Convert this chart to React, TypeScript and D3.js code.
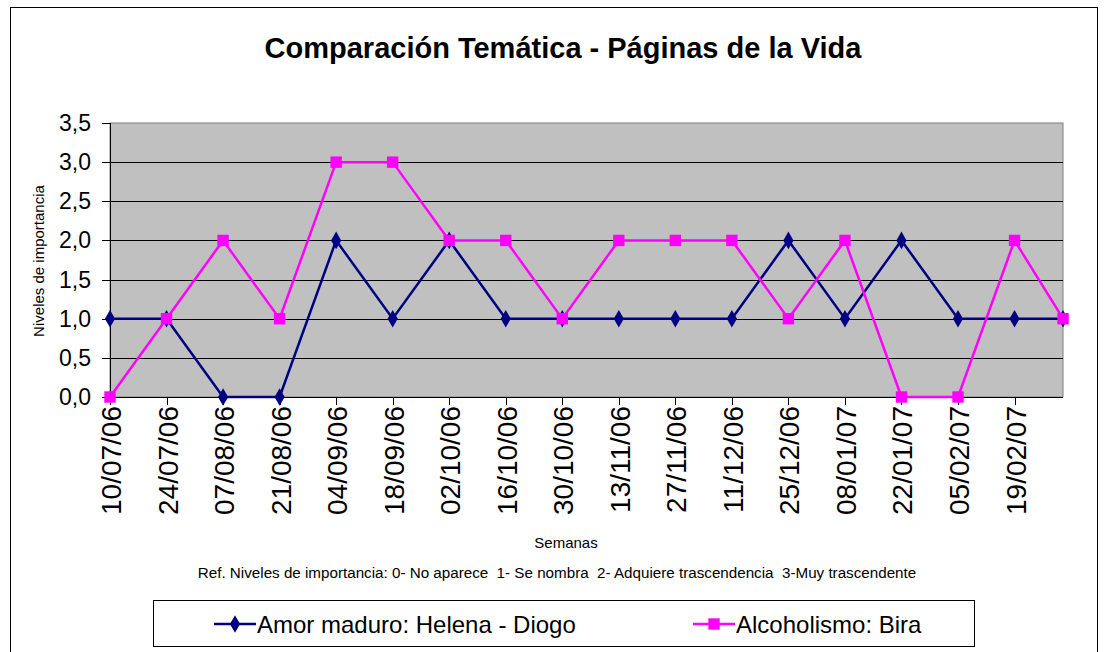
import React from 'react'
import { scaleTime, scaleLinear, line, timeParse, symbol, symbolDiamond, symbolSquare } from 'd3'

const fechas = ["10/07/06", "24/07/06", "07/08/06", "21/08/06", "04/09/06", "18/09/06", "02/10/06", "16/10/06", "30/10/06",
  "13/11/06", "27/11/06", "11/12/06", "25/12/06", "08/01/07", "22/01/07", "05/02/07", "19/02/07", "03/03/07"]
const tickLabels = ["10/07/06", "24/07/06", "07/08/06", "21/08/06", "04/09/06", "18/09/06", "02/10/06", "16/10/06", "30/10/06",
  "13/11/06", "27/11/06", "11/12/06", "25/12/06", "08/01/07", "22/01/07", "05/02/07", "19/02/07"]
const amor = [1, 1, 0, 0, 2, 1, 2, 1, 1, 1, 1, 1, 2, 1, 2, 1, 1, 1]
const alcoholismo = [0, 1, 2, 1, 3, 3, 2, 2, 1, 2, 2, 2, 1, 2, 0, 0, 2, 1]
const yTicks = [0, 0.5, 1, 1.5, 2, 2.5, 3, 3.5]

const parse = timeParse("%d/%m/%y")
const font = "'Liberation Sans', Arial, sans-serif"

const W = 1104, H = 652
const m = { left: 110, right: 1063, top: 123, bottom: 397 }

export default function App() {
  const dates = fechas.map(d => parse(d) as Date)
  const x = scaleTime().domain([dates[0], dates[dates.length - 1]]).range([m.left, m.right])
  const y = scaleLinear().domain([0, 3.5]).range([m.bottom, m.top])

  const series = [
    { name: "Amor maduro: Helena - Diogo", values: amor, color: "#000080", shape: symbolDiamond, size: 90 },
    { name: "Alcoholismo: Bira", values: alcoholismo, color: "#FF00FF", shape: symbolSquare, size: 130 },
  ]

  const lineGen = line<number>().x((_, i) => x(dates[i])).y(v => y(v))
  const fmt = (v: number) => v.toFixed(1).replace(".", ",")

  return (
    <svg width={W} height={H} style={{ position: 'absolute', left: 0, top: 0, background: '#fff' }} fontFamily={font}>
      <rect x={10.5} y={7.5} width={1087} height={660} fill="#fff" stroke="#000" strokeWidth={1} />
      <text x={563} y={58} textAnchor="middle" fontSize={29} fontWeight="bold">Comparación Temática - Páginas de la Vida</text>

      <rect x={m.left} y={m.top} width={m.right - m.left} height={m.bottom - m.top} fill="#C0C0C0" stroke="#808080" strokeWidth={1} />
      {yTicks.filter(t => t > 0 && t < 3.5).map(t => (
        <line key={t} x1={m.left} x2={m.right} y1={Math.round(y(t)) + 0.5} y2={Math.round(y(t)) + 0.5} stroke="#000" />
      ))}

      {/* y axis */}
      <line x1={m.left + 0.5} x2={m.left + 0.5} y1={m.top} y2={m.bottom} stroke="#000" />
      {yTicks.map(t => (
        <g key={t}>
          <line x1={m.left - 8} x2={m.left} y1={Math.round(y(t)) + 0.5} y2={Math.round(y(t)) + 0.5} stroke="#000" />
          <text x={m.left - 19} y={y(t) + 8} textAnchor="end" fontSize={23}>{fmt(t)}</text>
        </g>
      ))}
      <text transform={`translate(44,${261}) rotate(-90)`} textAnchor="middle" fontSize={15}>Niveles de importancia</text>

      {/* x axis */}
      <line x1={m.left} x2={m.right} y1={m.bottom + 0.5} y2={m.bottom + 0.5} stroke="#000" />
      {tickLabels.map(t => {
        const px = Math.round(x(parse(t) as Date)) + 0.5
        return (
          <g key={t}>
            <line x1={px} x2={px} y1={m.bottom} y2={m.bottom + 8} stroke="#000" />
            <text transform={`translate(${px + 10},${m.bottom + 9}) rotate(-90)`} textAnchor="end" fontSize={28}>{t}</text>
          </g>
        )
      })}
      <text x={566} y={548} textAnchor="middle" fontSize={15}>Semanas</text>
      <text x={557} y={578} textAnchor="middle" fontSize={15.2} style={{ whiteSpace: 'pre' }}>Ref. Niveles de importancia: 0- No aparece  1- Se nombra  2- Adquiere trascendencia  3-Muy trascendente</text>

      {series.map(s => (
        <g key={s.name}>
          <path d={lineGen(s.values) || ''} fill="none" stroke={s.color} strokeWidth={2.5} />
          {s.values.map((v, i) => (
            <path key={i} d={symbol(s.shape, s.size)() || ''} transform={`translate(${x(dates[i])},${y(v)})`} fill={s.color} />
          ))}
        </g>
      ))}

      {/* legend */}
      <rect x={153.5} y={600.5} width={821} height={46} fill="#fff" stroke="#000" />
      {series.map((s, i) => {
        const lx = i === 0 ? 214 : 693
        return (
          <g key={s.name}>
            <line x1={lx} x2={lx + 42} y1={624} y2={624} stroke={s.color} strokeWidth={2.5} />
            <path d={symbol(s.shape, s.size)() || ''} transform={`translate(${lx + 21},624)`} fill={s.color} />
            <text x={lx + 43} y={633} fontSize={24}>{s.name}</text>
          </g>
        )
      })}
    </svg>
  )
}
